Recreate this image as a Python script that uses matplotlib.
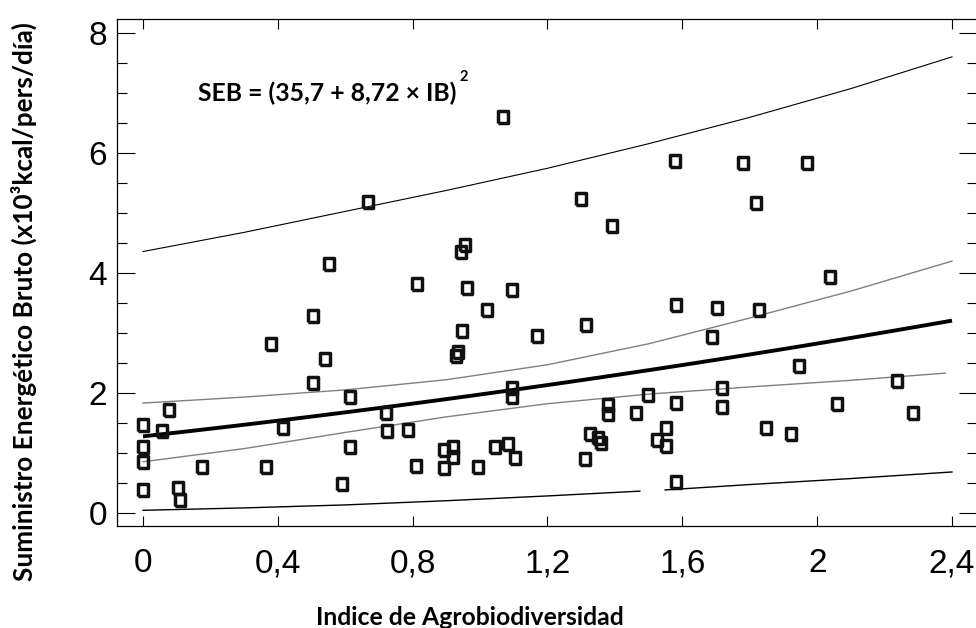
import numpy as np
import matplotlib
matplotlib.use("Agg")
import matplotlib.pyplot as plt
from matplotlib.ticker import MultipleLocator, FixedLocator

# ---------------- data ----------------
ib = [0.00, 0.00, 0.00, 0.00, 0.055, 0.078, 0.105, 0.11, 0.176, 0.364,
      0.38, 0.416, 0.503, 0.541, 0.503, 0.614, 0.614, 0.591, 0.72, 0.723,
      0.785, 1.021, 0.945, 0.93, 0.935, 1.17, 1.314, 1.581, 1.096, 1.096,
      0.81, 0.894, 0.919, 0.919, 0.894, 0.993, 1.044, 1.084, 1.104, 1.38,
      1.38, 1.462, 1.499, 1.581, 1.326, 1.351, 1.359, 1.311, 1.524, 1.553,
      1.551, 1.581, 1.702, 1.827, 1.687, 1.946, 1.718, 1.718, 1.847, 1.922,
      2.058, 2.238, 2.285,
      1.069, 0.668, 0.955, 0.942, 0.553, 1.578, 1.781, 1.971, 1.299, 1.82,
      1.39, 2.038, 0.812, 0.962, 1.094]
seb = [1.46, 1.10, 0.84, 0.38, 1.37, 1.71, 0.42, 0.22, 0.77, 0.77,
       2.81, 1.42, 3.28, 2.56, 2.16, 1.93, 1.10, 0.48, 1.66, 1.36,
       1.38, 3.38, 3.04, 2.62, 2.68, 2.95, 3.14, 3.47, 2.09, 1.93,
       0.78, 1.04, 1.10, 0.93, 0.74, 0.76, 1.10, 1.15, 0.91, 1.80,
       1.65, 1.66, 1.96, 1.83, 1.31, 1.24, 1.16, 0.89, 1.21, 1.41,
       1.12, 0.52, 3.41, 3.38, 2.94, 2.45, 2.09, 1.77, 1.42, 1.31,
       1.81, 2.20, 1.67,
       6.60, 5.19, 4.47, 4.35, 4.15, 5.87, 5.83, 5.84, 5.23, 5.17,
       4.79, 3.93, 3.82, 3.75, 3.71]

# fitted model shown on the chart: SEB = (35.7 + 8.72 * IB)^2  (kcal -> x10^3)
fit_a = 35.7
fit_b = 8.72

band_x = [0.0, 0.3, 0.6, 0.9, 1.2, 1.5, 1.8, 2.1, 2.4]
conf_upper = [1.83, 1.93, 2.05, 2.22, 2.47, 2.82, 3.25, 3.70, 4.20]
conf_lower_x = [0.0, 0.3, 0.6, 0.9, 1.2, 1.5, 1.8, 2.1, 2.38]
conf_lower = [0.85, 1.07, 1.34, 1.60, 1.82, 1.98, 2.10, 2.21, 2.33]
pred_upper = [4.36, 4.68, 5.03, 5.38, 5.75, 6.16, 6.60, 7.08, 7.61]
pred_lower_x1 = [0.0, 0.3, 0.6, 0.9, 1.2, 1.474]
pred_lower_y1 = [0.04, 0.08, 0.13, 0.20, 0.28, 0.36]
pred_lower_x2 = [1.549, 1.8, 2.1, 2.4]
pred_lower_y2 = [0.38, 0.47, 0.57, 0.68]

x_ticks = [0, 0.4, 0.8, 1.2, 1.6, 2.0, 2.4]
x_tick_labels = ["0", "0,4", "0,8", "1,2", "1,6", "2", "2,4"]
y_ticks = [0, 2, 4, 6, 8]
y_tick_labels = ["0", "2", "4", "6", "8"]

equation_text = "SEB = (35,7 + 8,72 × IB)"
equation_sup = "2"
xlabel = "Indice de Agrobiodiversidad"
ylabel = "Suministro Energético Bruto (x10³kcal/pers/día)"

# ---------------- figure ----------------
W, H = 976, 628
fig = plt.figure(figsize=(W / 100, H / 100), dpi=100)
L, R, B, T = 117, 977, 526, 19
ax = fig.add_axes([L / W, 1 - B / H, (R - L) / W, (B - T) / H])

ax.set_xlim(-0.0771, 2.4742)
ax.set_ylim(-0.222, 8.242)

fit_x = np.linspace(0, 2.4, 121)
fit_y = (fit_a + fit_b * fit_x) ** 2 / 1000.0

grey = "#808080"
ax.plot(band_x, pred_upper, color="black", lw=0.8, zorder=2)
ax.plot(pred_lower_x1, pred_lower_y1, color="black", lw=1.0, zorder=2)
ax.plot(pred_lower_x2, pred_lower_y2, color="black", lw=1.0, zorder=2)
ax.plot(band_x, conf_upper, color=grey, lw=1.0, zorder=2)
ax.plot(conf_lower_x, conf_lower, color=grey, lw=1.0, zorder=2)
ax.plot(fit_x, fit_y, color="black", lw=2.8, zorder=3, solid_capstyle="butt")

rect = [(-0.82, -1), (0.82, -1), (0.82, 1), (-0.82, 1), (-0.82, -1)]
ax.plot(ib, seb, linestyle="none", marker=rect, markersize=8.4,
        markerfacecolor="none", markeredgecolor="#111111",
        markeredgewidth=2.5, zorder=4)

# ticks
ax.xaxis.set_major_locator(FixedLocator(x_ticks))
ax.set_xticklabels(x_tick_labels)
ax.yaxis.set_major_locator(FixedLocator(y_ticks))
ax.set_yticklabels(y_tick_labels)
ax.yaxis.set_minor_locator(MultipleLocator(0.5))
ax.tick_params(axis="x", which="major", direction="in", length=7.2, width=0.8,
               top=True, bottom=True, pad=16, labelsize=24)
ax.tick_params(axis="y", which="major", direction="in", length=13, width=0.8,
               left=True, right=True, pad=7, labelsize=24)
ax.tick_params(axis="y", which="minor", direction="in", length=7.2, width=0.8,
               left=True, right=True)
for lab in ax.get_xticklabels() + ax.get_yticklabels():
    lab.set_family("Liberation Sans")
    lab.set_color("black")
for s in ax.spines.values():
    s.set_linewidth(0.9)
    s.set_color("black")

# texts
fnt = dict(family="Lato", weight="bold", color="black")
t_eq = fig.text(198 / W, 1 - 100.7 / H, equation_text, ha="left",
                va="baseline", fontsize=18, **fnt)
fig.canvas.draw()
r = fig.canvas.get_renderer()
w = t_eq.get_window_extent(r).width
fs = 18 * 259.0 / w
t_eq.set_fontsize(fs)
fig.canvas.draw()
ext = t_eq.get_window_extent(r)
fig.text((ext.x1 + 3) / W, 1 - 81 / H, equation_sup, ha="left",
         va="baseline", fontsize=10.5, **fnt)

fig.text(316 / W, 1 - 625 / H, xlabel, ha="left", va="baseline",
         fontsize=fs, **fnt)
t_y = fig.text(24 / W, 1 - 302 / H, ylabel, rotation=90, ha="center",
               va="center", fontsize=fs, **fnt)
fig.canvas.draw()
h = t_y.get_window_extent(r).height
t_y.set_fontsize(fs * 555.0 / h)

fig.savefig("out.png", dpi=100)
